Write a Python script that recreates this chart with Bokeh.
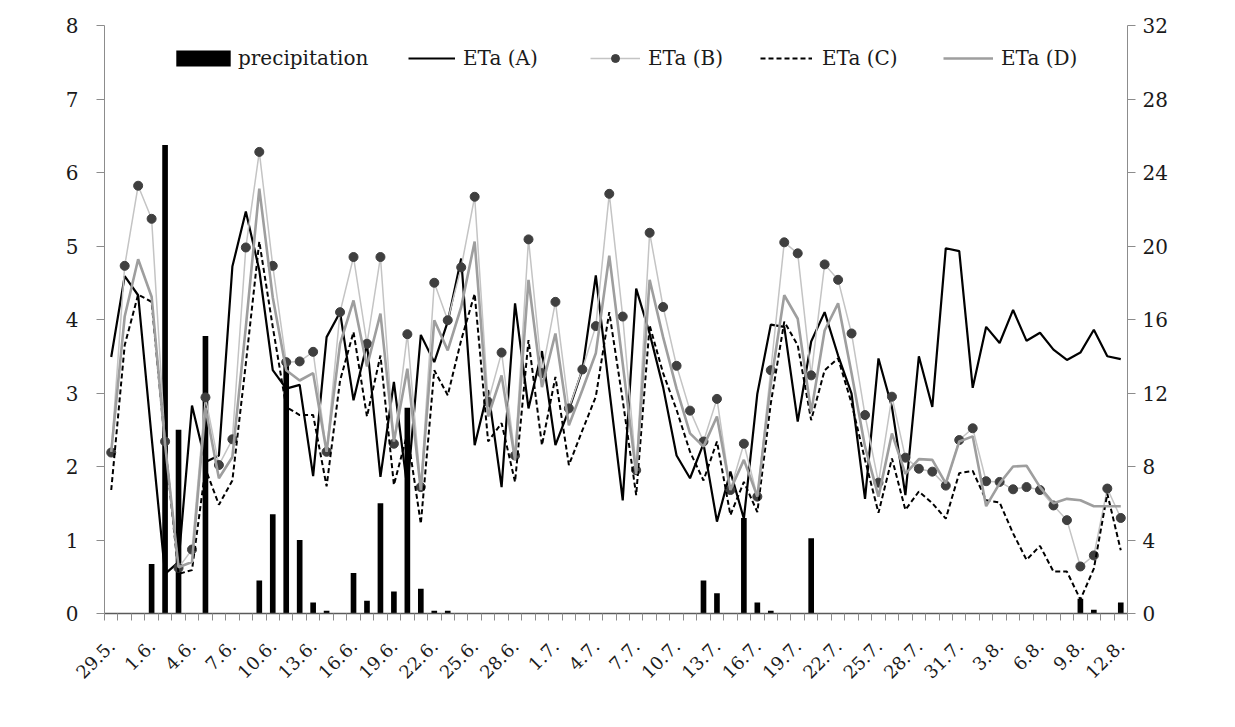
import math
from bokeh.plotting import figure
from bokeh.models import (Range1d, LinearAxis, FixedTicker, Legend, LegendItem, Label)
from bokeh.embed import file_html
from bokeh.resources import INLINE

# Daily dates 29.5. - 12.8. (76 days)
dates = ["29.5.", "30.5.", "31.5."] + [f"{d}.6." for d in range(1, 31)] + \
        [f"{d}.7." for d in range(1, 32)] + [f"{d}.8." for d in range(1, 13)]
day_idx = list(range(len(dates)))
tick_idx = list(range(0, len(dates), 3))
tick_labels = [dates[i] for i in tick_idx]

precipitation = [0, 0, 0, 2.7, 25.5, 10.0, 0, 15.1, 0, 0,
                 0, 1.8, 5.4, 13.9, 4.0, 0.6, 0.15, 0, 2.2, 0.7,
                 6.0, 1.2, 11.2, 1.35, 0.15, 0.15, 0, 0, 0, 0,
                 0, 0, 0, 0, 0, 0, 0, 0, 0, 0,
                 0, 0, 0, 0, 1.8, 1.1, 0, 5.2, 0.6, 0.15,
                 0, 0, 4.1, 0, 0, 0, 0, 0, 0, 0,
                 0, 0, 0, 0, 0, 0, 0, 0, 0, 0,
                 0, 0, 0.8, 0.2, 0, 0.6]

eta_a = [3.49, 4.59, 4.33, 2.4, 0.54, 0.70, 2.83, 2.06, 2.15, 4.72,
         5.47, 4.67, 3.31, 3.06, 3.11, 1.87, 3.76, 4.10, 2.90, 3.67,
         1.86, 3.15, 1.70, 3.79, 3.42, 3.97, 4.83, 2.29, 3.04, 1.72,
         4.22, 2.79, 3.57, 2.29, 2.77, 3.31, 4.60, 3.05, 1.54, 4.42,
         3.81, 3.08, 2.15, 1.84, 2.31, 1.25, 1.93, 1.29, 2.99, 3.93,
         3.90, 2.61, 3.70, 4.10, 3.51, 2.99, 1.56, 3.47, 2.81, 1.61,
         3.50, 2.81, 4.97, 4.93, 3.07, 3.90, 3.68, 4.13, 3.71, 3.82,
         3.59, 3.45, 3.55, 3.86, 3.50, 3.46]

eta_b = [2.19, 4.73, 5.82, 5.37, 2.34, 0.62, 0.87, 2.94, 2.02, 2.37,
         4.98, 6.28, 4.73, 3.42, 3.43, 3.56, 2.20, 4.10, 4.85, 3.67,
         4.85, 2.31, 3.80, 1.72, 4.50, 3.99, 4.71, 5.67, 2.88, 3.55,
         2.15, 5.09, 3.27, 4.24, 2.79, 3.32, 3.91, 5.71, 4.04, 1.95,
         5.18, 4.17, 3.37, 2.76, 2.34, 2.92, 1.68, 2.31, 1.59, 3.31,
         5.05, 4.90, 3.24, 4.75, 4.54, 3.81, 2.70, 1.78, 2.95, 2.12,
         1.97, 1.93, 1.74, 2.36, 2.52, 1.80, 1.79, 1.69, 1.72, 1.68,
         1.47, 1.27, 0.64, 0.79, 1.70, 1.30]

eta_c = [1.68, 3.65, 4.34, 4.24, 2.30, 0.54, 0.59, 1.97, 1.48, 1.81,
         3.40, 5.06, 3.90, 2.81, 2.70, 2.70, 1.73, 3.17, 3.83, 2.68,
         3.51, 1.75, 2.45, 1.22, 3.31, 2.97, 3.72, 4.35, 2.34, 2.59,
         1.79, 3.72, 2.29, 3.22, 2.02, 2.49, 2.95, 4.10, 2.90, 1.61,
         3.92, 3.27, 2.77, 2.20, 1.81, 2.34, 1.34, 1.79, 1.38, 2.86,
         3.97, 3.65, 2.63, 3.31, 3.47, 2.86, 2.09, 1.37, 2.11, 1.41,
         1.66, 1.50, 1.29, 1.91, 1.94, 1.54, 1.51, 1.09, 0.73, 0.92,
         0.57, 0.57, 0.19, 0.61, 1.63, 0.86]

eta_d = [2.20, 4.04, 4.82, 4.31, 2.30, 0.63, 0.70, 2.80, 1.84, 2.13,
         3.90, 5.78, 4.30, 3.31, 3.17, 3.27, 2.20, 3.67, 4.26, 3.36,
         4.08, 2.34, 3.33, 1.68, 3.99, 3.58, 4.17, 5.06, 2.68, 3.24,
         2.09, 4.54, 3.08, 3.81, 2.56, 3.04, 3.54, 4.87, 3.40, 1.90,
         4.54, 3.76, 3.06, 2.45, 2.27, 2.68, 1.68, 2.09, 1.59, 3.13,
         4.33, 4.01, 2.74, 3.85, 4.22, 3.27, 2.27, 1.59, 2.45, 1.90,
         2.10, 2.09, 1.77, 2.34, 2.41, 1.46, 1.77, 2.00, 2.01, 1.72,
         1.50, 1.56, 1.54, 1.46, 1.46, 1.46]

FONT = "DejaVu Serif"
TXT = "#1a1a1a"

p = figure(width=1235, height=727, output_backend="svg", toolbar_location=None,
           x_range=Range1d(-0.5, len(dates) - 0.5), y_range=Range1d(0, 8),
           min_border_left=104, min_border_right=108, min_border_top=25,
           min_border_bottom=114)
p.outline_line_color = None
p.xgrid.visible = False
p.ygrid.visible = False
p.extra_y_ranges = {"precip": Range1d(0, 32)}

# bottom axis: tick marks between days, labels every third day
xa = p.xaxis[0]
xa.ticker = FixedTicker(ticks=tick_idx, minor_ticks=[i - 0.5 for i in range(len(dates) + 1)])
xa.major_label_overrides = {i: lab for i, lab in zip(tick_idx, tick_labels)}
xa.major_label_orientation = math.pi / 4
xa.major_tick_in = 0
xa.major_tick_out = 0
xa.minor_tick_in = 0
xa.minor_tick_out = 7
xa.minor_tick_line_color = "#8c8c8c"
xa.axis_line_color = "#5a5a5a"
xa.axis_line_width = 1.5
xa.major_label_text_font = FONT
xa.major_label_text_font_size = "18px"
xa.major_label_text_color = TXT
xa.major_label_standoff = 22

# left axis
ya = p.yaxis[0]
ya.ticker = FixedTicker(ticks=list(range(0, 9)))
ya.major_tick_in = 0
ya.major_tick_out = 8
ya.minor_tick_out = 0
ya.minor_tick_in = 0
ya.axis_line_color = "#8c8c8c"
ya.major_tick_line_color = "#8c8c8c"
ya.major_label_text_font = FONT
ya.major_label_text_font_size = "20px"
ya.major_label_text_color = TXT
ya.major_label_standoff = 18

# right axis for precipitation
ra = LinearAxis(y_range_name="precip", ticker=FixedTicker(ticks=list(range(0, 33, 4))))
ra.major_tick_in = 0
ra.major_tick_out = 8
ra.minor_tick_out = 0
ra.minor_tick_in = 0
ra.axis_line_color = "#8c8c8c"
ra.major_tick_line_color = "#8c8c8c"
ra.major_label_text_font = FONT
ra.major_label_text_font_size = "20px"
ra.major_label_text_color = TXT
ra.major_label_standoff = 7
p.add_layout(ra, "right")

bars = p.vbar(x=day_idx, top=precipitation, width=0.42, bottom=0,
              y_range_name="precip", fill_color="black", line_color=None)
ra_line = p.line(day_idx, eta_a, line_color="black", line_width=2.2)
rb_line = p.line(day_idx, eta_b, line_color="#c4c4c4", line_width=1.5)
rb_dots = p.scatter(day_idx, eta_b, size=9, fill_color="#3f3f3f", line_color="#3f3f3f")
rc_line = p.line(day_idx, eta_c, line_color="black", line_width=2, line_dash="5 3")
rd_line = p.line(day_idx, eta_d, line_color="#9e9e9e", line_width=2.6)

FB = 104   # frame left in px
FBOT = 613  # frame bottom in px


def add_legend(label, renderers, left, gw, gh, standoff):
    leg = Legend(items=[LegendItem(label=label, renderers=renderers)],
                 location=(left - FB, FBOT - 70), orientation="horizontal",
                 padding=0, margin=0, spacing=0, border_line_color=None,
                 background_fill_alpha=0, glyph_width=gw, glyph_height=gh,
                 label_height=20, label_standoff=standoff,
                 label_text_font=FONT, label_text_font_size="20px",
                 label_text_color=TXT)
    p.add_layout(leg)


add_legend("precipitation", [bars], 169, 68, 20, 1)
add_legend("ETa (A)", [ra_line], 408, 47, 20, 8)
add_legend("ETa (B)", [rb_line, rb_dots], 590, 50, 20, 8)
add_legend("ETa (C)", [rc_line], 760, 52, 20, 10)
add_legend("ETa (D)", [rd_line], 943, 50, 20, 8)

# axis titles
p.add_layout(Label(x=22 - FB, y=FBOT - 318, x_units="screen", y_units="screen",
                   text="Daily total of ETa (mm)", angle=math.pi / 2,
                   text_align="center", text_baseline="middle",
                   text_font=FONT, text_font_size="20px", text_color=TXT))
p.add_layout(Label(x=1216 - FB, y=FBOT - 340, x_units="screen", y_units="screen",
                   text="Daily total of precipitation (mm)", angle=math.pi / 2,
                   text_align="center", text_baseline="middle",
                   text_font=FONT, text_font_size="20px", text_color=TXT))
p.add_layout(Label(x=640 - FB, y=FBOT - 716, x_units="screen", y_units="screen",
                   text="Time", text_align="center", text_baseline="middle",
                   text_font=FONT, text_font_size="20px", text_color=TXT))

open("out.html", "w").write(file_html(p, INLINE))
